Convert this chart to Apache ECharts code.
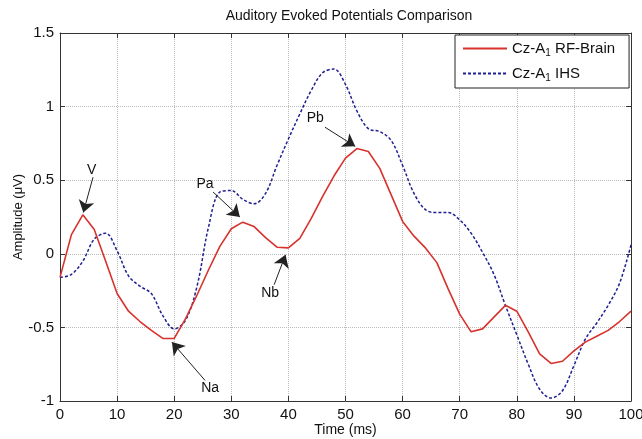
<!DOCTYPE html>
<html>
<head>
<meta charset="utf-8">
<script src="https://cdn.jsdelivr.net/npm/echarts@6/dist/echarts.min.js"></script>
<style>html,body{margin:0;padding:0;background:#fff;}#c{width:642px;height:439px;}</style>
</head>
<body>
<div id="c"></div>
<script>
var timeMs = [0,2,4,6,8,10,12,14,16,18,20,22,24,26,28,30,32,34,36,38,40,42,44,46,48,50,52,54,56,58,60,62,64,66,68,70,72,74,76,78,80,82,84,86,88,90,92,94,96,98,100];
var rfBrain = [-0.16,0.13,0.265,0.165,-0.05,-0.27,-0.39,-0.46,-0.52,-0.575,-0.575,-0.44,-0.28,-0.11,0.05,0.17,0.215,0.185,0.11,0.045,0.04,0.105,0.24,0.39,0.53,0.65,0.715,0.695,0.58,0.40,0.22,0.12,0.04,-0.06,-0.24,-0.41,-0.53,-0.51,-0.43,-0.35,-0.39,-0.53,-0.68,-0.745,-0.73,-0.66,-0.60,-0.56,-0.52,-0.46,-0.39];
var ihs = [-0.16,-0.14,-0.05,0.10,0.14,0.02,-0.15,-0.22,-0.27,-0.42,-0.51,-0.45,-0.22,0.18,0.42,0.43,0.37,0.34,0.41,0.60,0.78,0.95,1.11,1.23,1.255,1.15,0.97,0.85,0.83,0.77,0.60,0.41,0.30,0.28,0.28,0.23,0.14,0.01,-0.14,-0.35,-0.55,-0.75,-0.92,-0.98,-0.93,-0.76,-0.58,-0.47,-0.35,-0.20,0.06];
var seriesNames = ['Cz-A1 RF-Brain', 'Cz-A1 IHS'];
// annotations: label, text position, arrow tail, arrow tip (data units)
var annLabels = ['V','Pa','Na','Nb','Pb'];
var annText = [[5.55,0.57],[25.4,0.47],[26.3,-0.91],[36.8,-0.265],[44.7,0.92]];
var annTail = [[5.78,0.52],[26.8,0.42],[25.4,-0.86],[37.5,-0.21],[46.4,0.86]];
var annTip = [[4.08,0.28],[31.5,0.25],[19.6,-0.60],[39.5,-0.007],[51.7,0.73]];

var font = 'Liberation Sans, Arial, sans-serif';
var chart = echarts.init(document.getElementById('c'));
function pairs(xs, ys){ return xs.map(function(x,i){ return [x, ys[i]]; }); }
var mlData = annLabels.map(function(l,i){ return [{coord: annTail[i]},{coord: annTip[i]}]; });
var mpData = annLabels.map(function(l,i){ return {name: l, coord: annText[i], value: l}; });

var option = {
  backgroundColor: '#fff',
  animation: false,
  title: {
    text: 'Auditory Evoked Potentials Comparison',
    left: 344, textAlign: 'center', top: 4,
    textStyle: {fontFamily: font, fontSize: 14, fontWeight: 'normal', color: '#111'}
  },
  grid: {left: 60, top: 33, width: 571, height: 368, containLabel: false, outerBoundsMode: 'none'},
  legend: {
    data: seriesNames,
    orient: 'vertical',
    left: 455, top: 35,
    backgroundColor: '#fff',
    borderColor: '#222', borderWidth: 1,
    padding: [6, 14, 5, 7],
    itemGap: 8,
    itemWidth: 44, itemHeight: 12,
    itemStyle: {opacity: 0},
    textStyle: {fontFamily: font, fontSize: 15, color: '#111',
      rich: {s: {fontFamily: font, fontSize: 10, padding: [9,0,0,0], color: '#111'}}},
    formatter: function(n){ return n.replace('A1', 'A{s|1}'); }
  },
  xAxis: [{
    type: 'value', min: 0, max: 100, interval: 10, position: 'bottom',
    name: 'Time (ms)', nameLocation: 'middle', nameGap: 22, nameMoveOverlap: false,
    nameTextStyle: {fontFamily: font, fontSize: 14, color: '#111'},
    axisLine: {onZero: false, lineStyle: {color: '#333', width: 1}},
    axisTick: {inside: true, length: 5, lineStyle: {color: '#333'}},
    axisLabel: {fontFamily: font, fontSize: 15, color: '#111', margin: 6},
    splitLine: {show: true, lineStyle: {type: 'dotted', color: '#bbb'}}
  },{
    type: 'value', min: 0, max: 100, interval: 10, position: 'top',
    axisLine: {onZero: false, lineStyle: {color: '#333', width: 1}},
    axisTick: {inside: true, length: 5, lineStyle: {color: '#333'}},
    axisLabel: {show: false}, splitLine: {show: false}
  }],
  yAxis: [{
    type: 'value', min: -1, max: 1.5, interval: 0.5, position: 'left',
    name: 'Amplitude (\u03bcV)', nameLocation: 'middle', nameGap: 35, nameMoveOverlap: false,
    nameTextStyle: {fontFamily: font, fontSize: 13, color: '#111'},
    axisLine: {show: true, onZero: false, lineStyle: {color: '#333', width: 1}},
    axisTick: {show: true, inside: true, length: 5, lineStyle: {color: '#333'}},
    axisLabel: {fontFamily: font, fontSize: 15, color: '#111', margin: 6},
    splitLine: {show: true, lineStyle: {type: 'dotted', color: '#bbb'}}
  },{
    type: 'value', min: -1, max: 1.5, interval: 0.5, position: 'right',
    axisLine: {show: true, onZero: false, lineStyle: {color: '#333', width: 1}},
    axisTick: {show: true, inside: true, length: 5, lineStyle: {color: '#333'}},
    axisLabel: {show: false}, splitLine: {show: false}
  }],
  series: [{
    name: seriesNames[0], type: 'line', xAxisIndex: 0, yAxisIndex: 0,
    data: pairs(timeMs, rfBrain), symbol: 'none', smooth: false,
    itemStyle: {color: '#d7322c'},
    lineStyle: {color: '#d7322c', width: 1.6},
    z: 3,
    markLine: {
      silent: true, symbol: ['none', 'arrow'], symbolSize: 12,
      lineStyle: {color: '#222', width: 1, type: 'solid'},
      itemStyle: {color: '#111'},
      label: {show: false}, data: mlData, animation: false
    },
    markPoint: {
      silent: true, symbol: 'circle', symbolSize: 0,
      label: {show: true, position: 'inside', formatter: '{b}', fontFamily: font, fontSize: 14, color: '#111'},
      data: mpData, animation: false
    }
  },{
    name: seriesNames[1], type: 'line', xAxisIndex: 0, yAxisIndex: 0,
    data: pairs(timeMs, ihs), symbol: 'none', smooth: 0.35,
    itemStyle: {color: '#1f1f92'},
    lineStyle: {color: '#1f1f92', width: 1.5, type: [3, 2]},
    z: 2
  }]
};
chart.setOption(option);
</script>
</body>
</html>
